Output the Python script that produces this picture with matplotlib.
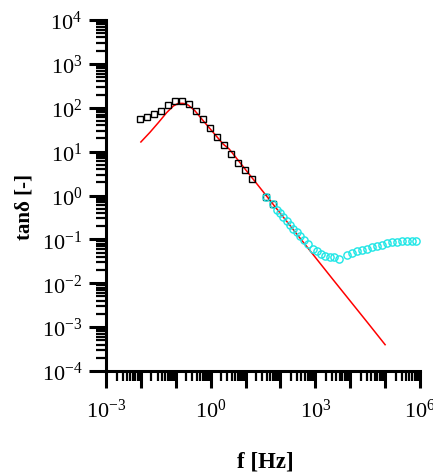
import numpy as np
import matplotlib.pyplot as plt
from matplotlib.ticker import FixedLocator, LogLocator, NullFormatter

plt.rcParams['font.family'] = ['Liberation Serif', 'DejaVu Serif']
plt.rcParams['mathtext.fontset'] = 'custom'
plt.rcParams['mathtext.rm'] = 'Liberation Serif'
plt.rcParams['mathtext.it'] = 'Liberation Serif:italic'
plt.rcParams['mathtext.bf'] = 'Liberation Serif:bold'
plt.rcParams['axes.unicode_minus'] = False

# black squares (log10 f, log10 tan delta)
sq_logf = [-2.03, -1.82, -1.62, -1.42, -1.22, -1.02, -0.82, -0.62, -0.42, -0.22,
           -0.02, 0.18, 0.38, 0.58, 0.78, 0.98, 1.18, 1.58, 1.78]
sq_logtan = [1.74, 1.80, 1.86, 1.92, 2.06, 2.15, 2.15, 2.09, 1.93, 1.74,
             1.53, 1.34, 1.15, 0.95, 0.75, 0.58, 0.37, -0.03, -0.20]

# cyan circles
ci_logf = [1.585, 1.785, 1.908, 1.986, 2.080, 2.178, 2.272, 2.367, 2.464, 2.567,
           2.673, 2.797, 2.923, 3.037, 3.160, 3.284, 3.410, 3.533, 3.676, 3.897,
           4.040, 4.183, 4.327, 4.470, 4.613, 4.756, 4.900, 5.043, 5.186, 5.330,
           5.473, 5.616, 5.759, 5.874]
ci_logtan = [-0.03, -0.20, -0.33, -0.40, -0.50, -0.59, -0.67, -0.77, -0.84, -0.93,
             -1.02, -1.11, -1.21, -1.27, -1.34, -1.38, -1.40, -1.41, -1.45, -1.36,
             -1.31, -1.27, -1.24, -1.21, -1.17, -1.14, -1.12, -1.09, -1.07, -1.05,
             -1.03, -1.03, -1.03, -1.03]

# red fit line
fit_logf = [-2.0, -1.74, -1.50, -1.26, -1.07, -0.93, -0.79, -0.64, -0.45, -0.21,
            0.07, 0.36, 0.53, 1.5, 2.5, 3.5, 4.5, 5.0]
fit_logtan = [1.22, 1.44, 1.66, 1.89, 2.04, 2.10, 2.10, 2.06, 1.93, 1.70,
              1.44, 1.17, 1.06, 0.09, -0.91, -1.91, -2.90, -3.40]

xticks = [1e-3, 1e-2, 1e-1, 1e0, 1e1, 1e2, 1e3, 1e4, 1e5, 1e6]
xticklabels = ['$10^{-3}$', '', '', '$10^{0}$', '', '', '$10^{3}$', '', '', '$10^{6}$']
yticks = [1e-4, 1e-3, 1e-2, 1e-1, 1e0, 1e1, 1e2, 1e3, 1e4]
yticklabels = ['$10^{-4}$', '$10^{-3}$', '$10^{-2}$', '$10^{-1}$', '$10^{0}$',
               '$10^{1}$', '$10^{2}$', '$10^{3}$', '$10^{4}$']

fig = plt.figure(figsize=(4.33, 4.77), dpi=100)
ax = fig.add_axes([106/433, 1-372/477, 314/433, 351/477])

ax.plot(10**np.array(fit_logf), 10**np.array(fit_logtan), color='red', lw=1.1, zorder=2)
ax.plot(10**np.array(sq_logf), 10**np.array(sq_logtan), 's', mfc='none', mec='black',
        ms=4.6, mew=1.0, zorder=3)
ax.plot(10**np.array(ci_logf), 10**np.array(ci_logtan), 'o', mfc='none', mec='#1ee6e6',
        ms=5.2, mew=1.0, zorder=3)

ax.set_xscale('log')
ax.set_yscale('log')
ax.set_xlim(1e-3, 1e6)
ax.set_ylim(1e-4, 1e4)

ax.xaxis.set_major_locator(FixedLocator(xticks))
ax.set_xticklabels(xticklabels)
ax.yaxis.set_major_locator(FixedLocator(yticks))
ax.set_yticklabels(yticklabels)
ax.xaxis.set_minor_locator(LogLocator(base=10, subs=np.arange(2, 10), numticks=20))
ax.yaxis.set_minor_locator(LogLocator(base=10, subs=np.arange(2, 10), numticks=20))
ax.xaxis.set_minor_formatter(NullFormatter())
ax.yaxis.set_minor_formatter(NullFormatter())

for s in ['top', 'right']:
    ax.spines[s].set_visible(False)
for s in ['left', 'bottom']:
    ax.spines[s].set_linewidth(2.2)

ax.tick_params(which='major', direction='out', length=12, width=2.2, labelsize=16, pad=5)
ax.tick_params(which='minor', direction='out', length=7, width=1.6)
ax.tick_params(axis='x', which='major', pad=8)

ax.set_xlabel('f [Hz]', fontsize=16.5, fontweight='bold')
ax.set_ylabel('tanδ [-]', fontsize=15, fontweight='bold')
ax.xaxis.set_label_coords(0.506, -0.256)
ax.yaxis.set_label_coords(-0.261, 0.47)
ax.xaxis.label.set_va('center')
ax.yaxis.label.set_va('center')

fig.savefig('out.png', dpi=100)
